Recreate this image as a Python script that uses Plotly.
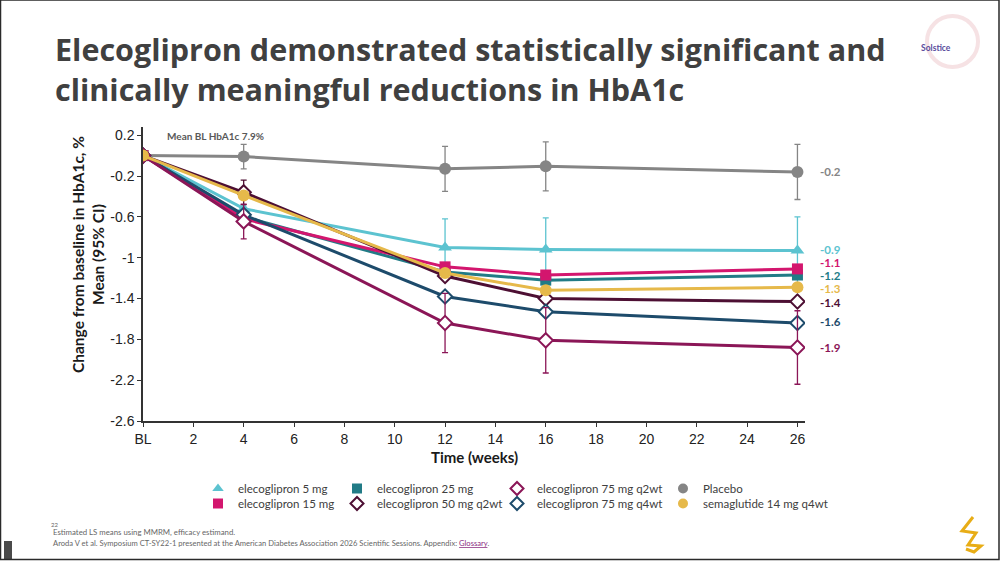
import plotly.graph_objects as go

W, H = 1000, 561
L, R, T, B = 143, 195, 127, 140
PW, PH = W - L - R, H - T - B

def px(x):
    return (x - L) / PW

def py(y):
    return (H - B - y) / PH

weeks = [0, 4, 12, 16, 26]
x_tickvals = [0, 2, 4, 6, 8, 10, 12, 14, 16, 18, 20, 22, 24, 26]
x_ticktext = ["BL", "2", "4", "6", "8", "10", "12", "14", "16", "18", "20", "22", "24", "26"]
y_tickvals = [0.2, -0.2, -0.6, -1.0, -1.4, -1.8, -2.2, -2.6]
y_ticktext = ["0.2", "-0.2", "-0.6", "-1", "-1.4", "-1.8", "-2.2", "-2.6"]

names = ["elecoglipron 5 mg", "elecoglipron 15 mg", "elecoglipron 25 mg",
         "elecoglipron 50 mg q2wt", "elecoglipron 75 mg q2wt", "elecoglipron 75 mg q4wt",
         "Placebo", "semaglutide 14 mg q4wt"]

placebo = [0.0, -0.01, -0.13, -0.105, -0.16]
e5 = [0.0, -0.52, -0.90, -0.92, -0.93]
e15 = [0.0, -0.62, -1.09, -1.17, -1.11]
e25 = [0.0, -0.60, -1.14, -1.22, -1.17]
e50q2 = [0.0, -0.36, -1.18, -1.40, -1.43]
e75q2 = [0.0, -0.645, -1.64, -1.81, -1.88]
e75q4 = [0.0, -0.58, -1.38, -1.53, -1.64]
sema = [0.0, -0.39, -1.15, -1.32, -1.29]

err_placebo = [0.0, 0.12, 0.22, 0.24, 0.27]
err_e5 = [0.0, 0.0, 0.28, 0.31, 0.33]
err_e75q2 = [0.0, 0.17, 0.29, 0.32, 0.36]
err_e50q2 = [0.0, 0.12, 0.0, 0.0, 0.0]

end_labels = ["-0.9", "-1.1", "-1.2", "-1.4", "-1.9", "-1.6", "-0.2", "-1.3"]
label_y = [-0.92, -1.045, -1.175, -1.435, -1.883, -1.627, -0.154, -1.305]

colors = {
    "elecoglipron 5 mg": "#5cc3d0",
    "elecoglipron 15 mg": "#d3166e",
    "elecoglipron 25 mg": "#217b86",
    "elecoglipron 50 mg q2wt": "#4d0f33",
    "elecoglipron 75 mg q2wt": "#8b1657",
    "elecoglipron 75 mg q4wt": "#1d4b6b",
    "Placebo": "#858585",
    "semaglutide 14 mg q4wt": "#e6b94a",
}
symbols = {
    "elecoglipron 5 mg": "triangle-up",
    "elecoglipron 15 mg": "square",
    "elecoglipron 25 mg": "square",
    "elecoglipron 50 mg q2wt": "diamond",
    "elecoglipron 75 mg q2wt": "diamond",
    "elecoglipron 75 mg q4wt": "diamond",
    "Placebo": "circle",
    "semaglutide 14 mg q4wt": "circle",
}
open_marker = {"elecoglipron 50 mg q2wt", "elecoglipron 75 mg q2wt", "elecoglipron 75 mg q4wt"}

series = {
    "Placebo": (placebo, err_placebo),
    "elecoglipron 5 mg": (e5, err_e5),
    "elecoglipron 25 mg": (e25, None),
    "elecoglipron 15 mg": (e15, None),
    "elecoglipron 50 mg q2wt": (e50q2, err_e50q2),
    "elecoglipron 75 mg q4wt": (e75q4, None),
    "elecoglipron 75 mg q2wt": (e75q2, err_e75q2),
    "semaglutide 14 mg q4wt": (sema, None),
}

fig = go.Figure()

def marker_for(n, size):
    c = colors[n]
    if n in open_marker:
        return dict(symbol=symbols[n], size=size, color="white", line=dict(color=c, width=2))
    return dict(symbol=symbols[n], size=size, color=c, line=dict(width=0))

for n, (vals, err) in series.items():
    c = colors[n]
    kw = {}
    if err is not None:
        kw["error_y"] = dict(type="data", array=err, visible=True, color=c, thickness=1.3, width=3)
    size = 12 if symbols[n] in ("circle", "triangle-up") else 11
    fig.add_trace(go.Scatter(x=weeks, y=vals, mode="lines+markers", name=n,
                             line=dict(color=c, width=3), marker=marker_for(n, size),
                             showlegend=False, **kw))

# legend-only traces, one legend per entry to control layout
legend_cols_x = [218, 357, 517, 683]
legend_rows_y = [481, 496]
legend_order = [["elecoglipron 5 mg", "elecoglipron 15 mg"],
                ["elecoglipron 25 mg", "elecoglipron 50 mg q2wt"],
                ["elecoglipron 75 mg q2wt", "elecoglipron 75 mg q4wt"],
                ["Placebo", "semaglutide 14 mg q4wt"]]
legend_layouts = {}
k = 0
for ci, col in enumerate(legend_order):
    for ri, n in enumerate(col):
        k += 1
        lname = "legend" if k == 1 else f"legend{k}"
        fig.add_trace(go.Scatter(x=[None], y=[None], mode="markers", name=n,
                                 marker=marker_for(n, 10), legend=lname, showlegend=True))
        legend_layouts[lname] = dict(
            x=px(legend_cols_x[ci] - 20), y=py(legend_rows_y[ri] - 7), xanchor="left", yanchor="top",
            bgcolor="rgba(0,0,0,0)", font=dict(family="Lato", size=11.5, color="#404040"),
            itemwidth=30, tracegroupgap=0)

ann = []
for n, txt, ly in zip(names, end_labels, label_y):
    ann.append(dict(x=26, y=ly, xref="x", yref="y", text=f"<b>{txt}</b>", showarrow=False,
                    xanchor="left", xshift=22, borderpad=0,
                    font=dict(family="Lato", size=11.5, color=colors[n])))

ann.append(dict(x=px(165), y=py(136), xref="paper", yref="paper", text="<b>Mean BL HbA1c 7.9%</b>",
                showarrow=False, xanchor="left", yanchor="middle",
                font=dict(family="Lato", size=10, color="#595959")))
ann.append(dict(x=px(88), y=py(255), xref="paper", yref="paper",
                text="<b>Change from baseline in HbA1c, %<br>Mean (95% CI)</b>",
                showarrow=False, textangle=-90, xanchor="center", yanchor="middle",
                font=dict(family="Lato", size=15.5, color="#1a1a1a")))
ann.append(dict(x=px(474), y=py(457), xref="paper", yref="paper", text="<b>Time (weeks)</b>",
                showarrow=False, xanchor="center", yanchor="middle",
                font=dict(family="Lato", size=15, color="#1a1a1a")))
ann.append(dict(x=px(53), y=py(26), xref="paper", yref="paper",
                text="<b>Elecoglipron demonstrated statistically significant and<br>clinically meaningful reductions in HbA1c</b>",
                showarrow=False, xanchor="left", yanchor="top", align="left",
                font=dict(family="Open Sans", size=30.5, color="#404040")))
ann.append(dict(x=px(953), y=py(41), xref="paper", yref="paper", text="<b>Solstice</b>",
                showarrow=False, font=dict(family="Lato", size=8.5, color="#5a4c9c")))
ann.append(dict(x=px(49), y=py(530), xref="paper", yref="paper", text="22",
                showarrow=False, xanchor="left", font=dict(family="Lato", size=6, color="#666666")))
ann.append(dict(x=px(51), y=py(539), xref="paper", yref="paper",
                text="Estimated LS means using MMRM, efficacy estimand.",
                showarrow=False, xanchor="left", font=dict(family="Lato", size=7.8, color="#666666")))
ann.append(dict(x=px(51), y=py(550), xref="paper", yref="paper",
                text="Aroda V et al. Symposium CT-SY22-1 presented at the American Diabetes Association 2026 Scientific Sessions. Appendix: <span style='color:#8a2b7f'><u>Glossary</u></span>.",
                showarrow=False, xanchor="left", font=dict(family="Lato", size=7.6, color="#666666")))

def ppath(points):
    s = ""
    for i, (x, y) in enumerate(points):
        s += ("M" if i == 0 else "L") + f"{px(x):.5f},{py(y):.5f} "
    return s

shapes = [
    dict(type="circle", xref="paper", yref="paper", x0=px(927), x1=px(978), y0=py(16), y1=py(67),
         line=dict(color="#f6e2e4", width=4)),
    dict(type="rect", xref="paper", yref="paper", x0=px(4), x1=px(12), y0=py(541), y1=py(559),
         fillcolor="#4a4a4a", line=dict(width=0)),
    dict(type="rect", xref="paper", yref="paper", x0=px(0.5), x1=px(999), y0=py(0), y1=py(559.5),
         line=dict(color="#2a2a2a", width=1.5)),
    dict(type="path", xref="paper", yref="paper",
         path=ppath([(973, 517), (962, 531), (976, 533), (968, 545), (981, 546), (974, 552), (966, 549)]),
         line=dict(color="#e8ad16", width=3)),
]

fig.update_layout(
    width=W, height=H, margin=dict(l=L, r=R, t=T, b=B),
    paper_bgcolor="white", plot_bgcolor="white",
    annotations=ann, shapes=shapes,
    **legend_layouts,
)
fig.update_xaxes(range=[0, 26.3], tickvals=x_tickvals, ticktext=x_ticktext, showgrid=False,
                 zeroline=False, showline=True, linecolor="#333333", linewidth=1.5,
                 ticks="outside", ticklen=4, tickcolor="#333333",
                 tickfont=dict(family="Liberation Sans", size=14, color="#222222"))
fig.update_yaxes(range=[-2.6, 0.28], tickvals=y_tickvals, ticktext=y_ticktext, showgrid=False,
                 zeroline=False, showline=True, linecolor="#333333", linewidth=1.5,
                 ticks="outside", ticklen=4, tickcolor="#333333",
                 tickfont=dict(family="Liberation Sans", size=14, color="#222222"))

fig.write_html("out.html")
